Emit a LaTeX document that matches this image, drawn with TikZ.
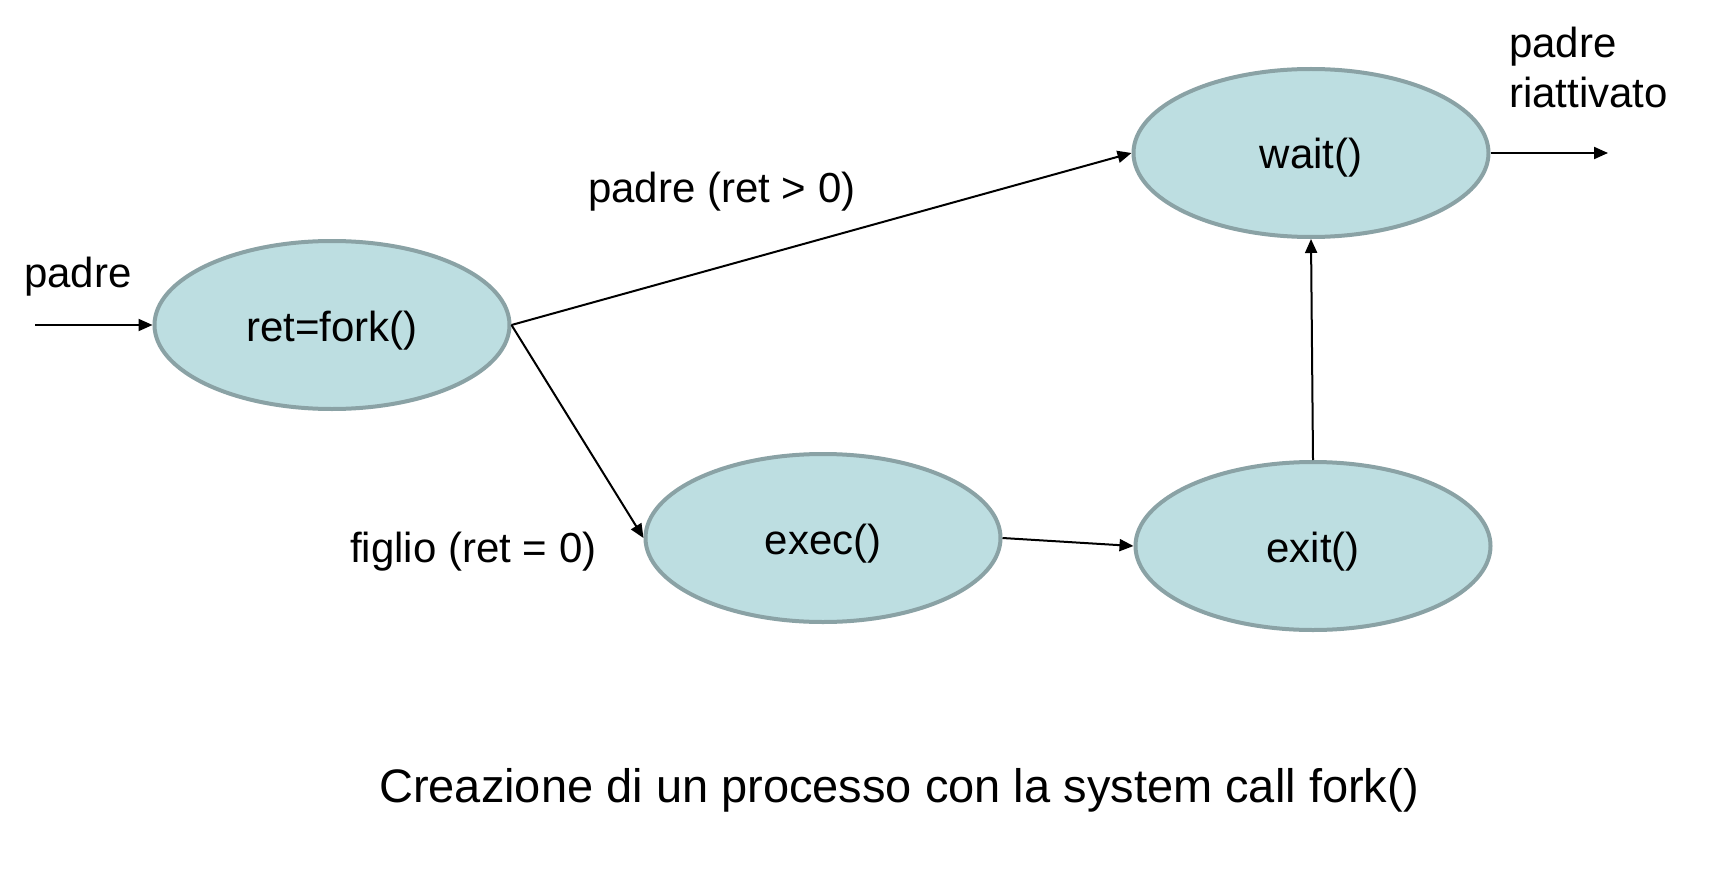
\documentclass[tikz,border=0pt]{standalone}
\usepackage{fontspec}
\setmainfont{Liberation Sans}
\usetikzlibrary{arrows.meta,shapes.geometric}
\definecolor{procfill}{RGB}{189,222,225}
\definecolor{procdraw}{RGB}{138,162,165}
\newcommand\proctext[1]{\raisebox{-16pt}[0pt][0pt]{#1}}
\begin{document}
\begin{tikzpicture}[x=1pt,y=-1pt,
  proc/.style={ellipse, draw=procdraw, fill=procfill, line width=4pt,
    minimum width=355pt, minimum height=168pt, inner sep=0pt,
    font=\fontsize{42}{50}\selectfont},
  lbl/.style={font=\fontsize{42}{50}\selectfont, inner sep=0pt},
  conn/.style={line width=2pt, -{Triangle[length=14pt,width=12pt]}}]
\useasboundingbox[fill=white] (0,0) rectangle (1712,896);

\node[proc] (fork) at (332,325) {\proctext{ret=fork()}};
\node[proc] (wait) at (1311,153) {\proctext{wait()}};
\node[proc] (exec) at (823,538) {\proctext{exec()}};
\node[proc] (exit) at (1313,546) {\proctext{exit()}};

\coordinate (in) at (35,325);
\coordinate (out) at (1608,153);

\draw[conn] (in) -- (fork.west);
\draw[conn] (fork.east) -- (wait.west);
\draw[conn] (fork.east) -- (exec.west);
\draw[conn] (exec.east) -- (exit.west);
\draw[conn] (exit.north) -- (wait.south);
\draw[conn] (wait.east) -- (out);

\node[lbl, anchor=base west] (lpadre) at (24,287) {padre};
\node[lbl, anchor=base west] (lpadret) at (588,203) {padre (ret > 0)};
\node[lbl, anchor=base west] (lfiglio) at (350,562) {figlio (ret = 0)};
\node[lbl, anchor=north west, align=left] (lriatt) at (1509,27) {padre\\riattivato};
\node[inner sep=0pt, anchor=base west, font=\fontsize{47}{56}\selectfont] (caption) at (379,802) {Creazione di un processo con la system call fork()};
\end{tikzpicture}
\end{document}
